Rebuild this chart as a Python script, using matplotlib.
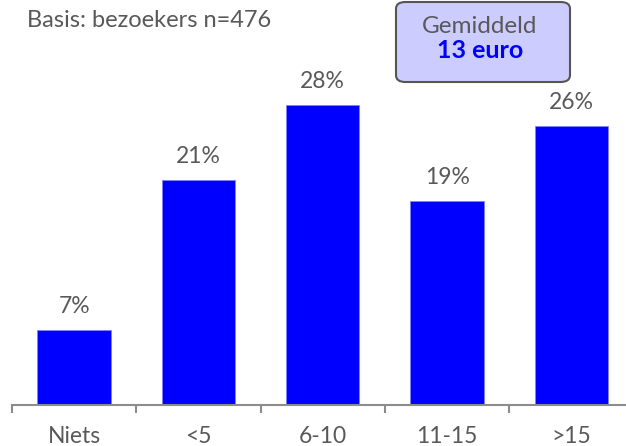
import matplotlib
matplotlib.use('Agg')
import matplotlib.pyplot as plt
from matplotlib.patches import FancyBboxPatch
from matplotlib.transforms import blended_transform_factory

# data
categories = ['Niets', '<5', '6-10', '11-15', '>15']
shares = [7, 21, 28, 19, 26]
labels = ['7%', '21%', '28%', '19%', '26%']

GREY = '#595959'
BLUE = '#0000FF'
FS = 16.5
plt.rcParams['font.family'] = ['Lato', 'DejaVu Sans']

fig = plt.figure(figsize=(6.26, 4.46), dpi=100)
# axes run a little past the right edge, like the cropped original
ax = fig.add_axes([12 / 626, 41 / 446, 621.5 / 626, 364 / 446])

ax.bar(range(len(categories)), shares, width=0.59, color=BLUE,
       edgecolor='#8080ff', linewidth=0.6)
for i, (v, lab) in enumerate(zip(shares, labels)):
    ax.annotate(lab, (i, v), xytext=(0, 12.3), textcoords='offset points',
                ha='center', va='baseline', fontsize=FS, color=GREY)

ax.set_xlim(-0.5, 4.5)
ax.set_ylim(0, 28 / (300 / 364))
ax.set_xticks([i - 0.5 for i in range(len(categories))])
ax.set_xticklabels([])
ax.tick_params(axis='x', length=6, width=1.5, color='#8c8c8c', direction='out')
ax.set_yticks([])
for s in ['top', 'right', 'left']:
    ax.spines[s].set_visible(False)
ax.spines['bottom'].set_color('#8c8c8c')
ax.spines['bottom'].set_linewidth(1.5)

# category names sit low, right at the bottom edge
trans = blended_transform_factory(ax.transData, fig.transFigure)
for i, c in enumerate(categories):
    ax.text(i, 1 - 443 / 446, c, transform=trans, ha='center', va='baseline',
            fontsize=FS, color=GREY)

fig.text(27 / 626, 1 - 27 / 446, 'Basis: bezoekers n=476', fontsize=17,
         color=GREY, va='baseline', ha='left')

box = FancyBboxPatch((396 / 626, 1 - 82 / 446), 174 / 626, 80 / 446,
                     boxstyle='round,pad=0,rounding_size=0.015',
                     transform=fig.transFigure, facecolor='#CCCCFF',
                     edgecolor='#555555', linewidth=1.5)
fig.patches.append(box)
fig.text(480 / 626, 1 - 33 / 446, 'Gemiddeld', fontsize=17.5, color=GREY,
         ha='center', va='baseline')
fig.text(480 / 626, 1 - 58 / 446, '13 euro', fontsize=18, color=BLUE,
         fontweight='bold', ha='center', va='baseline')

fig.savefig('out.png', dpi=100)
